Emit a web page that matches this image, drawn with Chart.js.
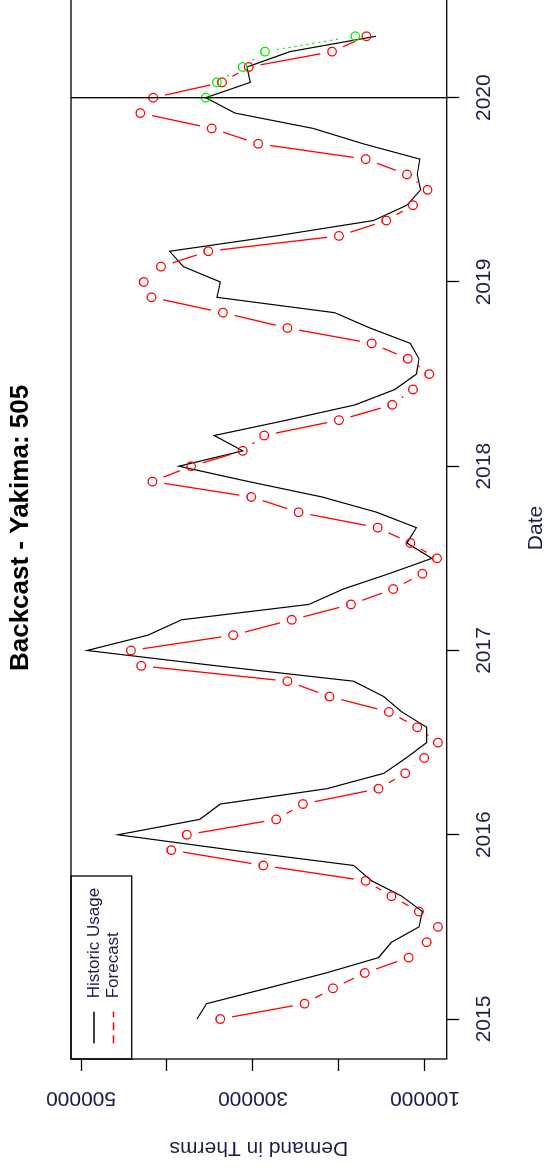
<!DOCTYPE html>
<html>
<head>
<meta charset="utf-8">
<title>Backcast - Yakima: 505</title>
<script src="https://cdn.jsdelivr.net/npm/chart.js@4.4.1/dist/chart.umd.min.js"></script>
<style>
  html, body { margin: 0; padding: 0; background: #fff; width: 546px; height: 1168px; overflow: hidden; }
  /* the plot is drawn landscape and turned a quarter turn left, like the original */
  #plot { position: absolute; left: 0; top: 0; width: 1200px; height: 546px;
          transform-origin: 0 0; transform: translate(0, 1168px) rotate(-90deg); }
  canvas { display: block; }
</style>
</head>
<body>
<div id="plot"><canvas id="backcastChart" width="1200" height="546"></canvas></div>
<script>
const firstYear = 2015;
const backcastStartYear = 2020;
const markerYear = 2020;

// monthly demand in therms, Jan 2015 - May 2020
const historicUsage = [
    365000, 354000, 284000, 215000, 154000, 139000, 107000, 103000, 127000, 162000,
    183000, 324000, 457000, 362000, 338000, 214000, 148000, 122000, 98000, 98000,
    127000, 148000, 183000, 342000, 493000, 422000, 383000, 235000, 195000, 142000,
    92000, 121000, 110000, 156000, 220000, 305000, 386000, 312000, 345000, 261000,
    181000, 135000, 110000, 107000, 117000, 164000, 205000, 342000, 338000, 381000,
    397000, 273000, 160000, 121000, 105000, 109000, 106000, 172000, 230000, 321000,
    355000, 303000, 307000, 257000, 157000
];
const forecast = [
    338000, 240000, 207000, 170000, 119000, 98000, 85000, 107000, 139000, 169000,
    288000, 395000, 377000, 273000, 242000, 154000, 123000, 101000, 85000, 109000,
    142000, 211000, 260000, 430000, 442000, 323000, 255000, 186000, 137000, 103000,
    86000, 117000, 155000, 247000, 302000, 417000, 372000, 312000, 287000, 200000,
    138000, 114000, 95000, 120000, 162000, 260000, 335000, 418000, 427000, 407000,
    352000, 200000, 145000, 114000, 97000, 121000, 169000, 294000, 348000, 431000,
    416000, 336000, 305000, 208000, 168000
];
// Jan - May 2020
const backcast = [355000, 342000, 312000, 286000, 181000];

const yearTicks = [2015, 2016, 2017, 2018, 2019, 2020];
const demandTicks = [100000, 200000, 300000, 400000, 500000];
const demandLabels = ['100000', '', '300000', '', '500000'];

const TEXT = '#1a1f4a';
const FONT = "'Liberation Sans', Arial, sans-serif";
Chart.defaults.font.family = FONT;
Chart.defaults.color = TEXT;

function monthly(values, startYear) {
    return values.map((v, i) => ({ x: startYear + i / 12, y: v }));
}

// R type = "b": each segment stops short of the points
function gapDash(ctx, dots) {
    const len = Math.hypot(ctx.p1.x - ctx.p0.x, ctx.p1.y - ctx.p0.y);
    const gap = 12;
    const run = len - 2 * gap;
    if (run <= 0) return [0, len + 10];
    if (!dots) return [0, gap, run, gap + 10];
    const out = [0, gap];
    let used = 0;
    while (used + dots[0] <= run) {
        out.push(dots[0], dots[1]);
        used += dots[0] + dots[1];
    }
    out[out.length - 1] += len;
    return out;
}

// plot box, the 2020 line and the boxed legend
const framePlugin = {
    id: 'frame',
    afterDatasetsDraw(chart) {
        const { ctx, chartArea: a, scales } = chart;
        ctx.save();
        ctx.strokeStyle = '#000';
        ctx.lineWidth = 1.3;
        ctx.strokeRect(a.left, a.top, a.right - a.left, a.bottom - a.top);

        const xm = scales.x.getPixelForValue(markerYear);
        ctx.beginPath();
        ctx.moveTo(xm, a.top);
        ctx.lineTo(xm, a.bottom);
        ctx.stroke();

        const lx = a.left, ly = a.top;
        ctx.strokeRect(lx, ly, 183, 60.7);
        const items = [
            { text: 'Historic Usage', color: '#000', dash: [], y: 23 },
            { text: 'Forecast', color: '#ff0000', dash: [8, 5], y: 42.5 }
        ];
        ctx.font = '17px ' + FONT;
        ctx.textBaseline = 'middle';
        items.forEach(it => {
            ctx.strokeStyle = it.color;
            ctx.setLineDash(it.dash);
            ctx.beginPath();
            ctx.moveTo(lx + 15.7, ly + it.y);
            ctx.lineTo(lx + 47.3, ly + it.y);
            ctx.stroke();
            ctx.setLineDash([]);
            ctx.fillStyle = TEXT;
            ctx.fillText(it.text, lx + 60.7, ly + it.y);
        });
        ctx.restore();
    }
};

new Chart(document.getElementById('backcastChart'), {
    type: 'line',
    data: {
        datasets: [
            {
                label: 'Backcast',
                data: monthly(backcast, backcastStartYear),
                borderColor: '#00ee00',
                borderWidth: 1.3,
                pointRadius: 4.3,
                pointHoverRadius: 4.3,
                pointBorderWidth: 1.3,
                pointBorderColor: '#00ee00',
                pointBackgroundColor: 'rgba(0,0,0,0)',
                segment: { borderDash: ctx => gapDash(ctx, [2, 4]) },
                order: 0
            },
            {
                label: 'Forecast',
                data: monthly(forecast, firstYear),
                borderColor: '#ff0000',
                borderWidth: 1.3,
                pointRadius: 4.3,
                pointHoverRadius: 4.3,
                pointBorderWidth: 1.3,
                pointBorderColor: '#ff0000',
                pointBackgroundColor: 'rgba(0,0,0,0)',
                segment: { borderDash: ctx => gapDash(ctx) },
                order: 1
            },
            {
                label: 'Historic Usage',
                data: monthly(historicUsage, firstYear),
                borderColor: '#000',
                borderWidth: 1.2,
                pointRadius: 0,
                order: 2
            }
        ]
    },
    options: {
        responsive: false,
        devicePixelRatio: 1,
        animation: false,
        layout: { padding: { top: 0, left: 0, right: 28.9, bottom: 0 } },
        scales: {
            x: {
                type: 'linear',
                position: 'bottom',
                bounds: 'data',
                min: 2014.783,
                max: 2020.547,
                afterBuildTicks: s => { s.ticks = yearTicks.map(v => ({ value: v })); },
                afterFit: s => { s.height = 99.3; },
                grid: { drawOnChartArea: false, tickLength: 12.5, tickColor: '#000', tickWidth: 1.3 },
                border: { display: false },
                ticks: {
                    autoSkip: false,
                    minRotation: 0,
                    maxRotation: 0,
                    padding: 12.9,
                    color: TEXT,
                    font: { size: 21 },
                    callback: v => String(v)
                },
                title: {
                    display: true,
                    text: 'Date',
                    color: TEXT,
                    font: { size: 21 },
                    padding: { top: 0, bottom: -3.3 }
                }
            },
            y: {
                type: 'linear',
                position: 'left',
                bounds: 'data',
                min: 74767,
                max: 511628,
                afterBuildTicks: s => { s.ticks = demandTicks.map(v => ({ value: v })); },
                afterFit: s => { s.width = 109; },
                grid: { drawOnChartArea: false, tickLength: 12, tickColor: '#000', tickWidth: 1.3 },
                border: { display: false },
                ticks: {
                    autoSkip: false,
                    minRotation: 90,
                    maxRotation: 90,
                    crossAlign: 'center',
                    padding: -8.5,
                    color: TEXT,
                    font: { size: 21 },
                    callback: (v, i) => demandLabels[i]
                },
                title: {
                    display: true,
                    text: 'Demand in Therms',
                    color: TEXT,
                    font: { size: 21 },
                    padding: { top: 7.4, bottom: 0 }
                }
            }
        },
        plugins: {
            legend: { display: false },
            tooltip: { enabled: false },
            title: {
                display: true,
                text: 'Backcast - Yakima: 505',
                color: '#000',
                font: { size: 26, weight: 'bold' },
                padding: { top: 5.4, bottom: 34.4 },
                fullSize: false
            }
        }
    },
    plugins: [framePlugin]
});
</script>
</body>
</html>
